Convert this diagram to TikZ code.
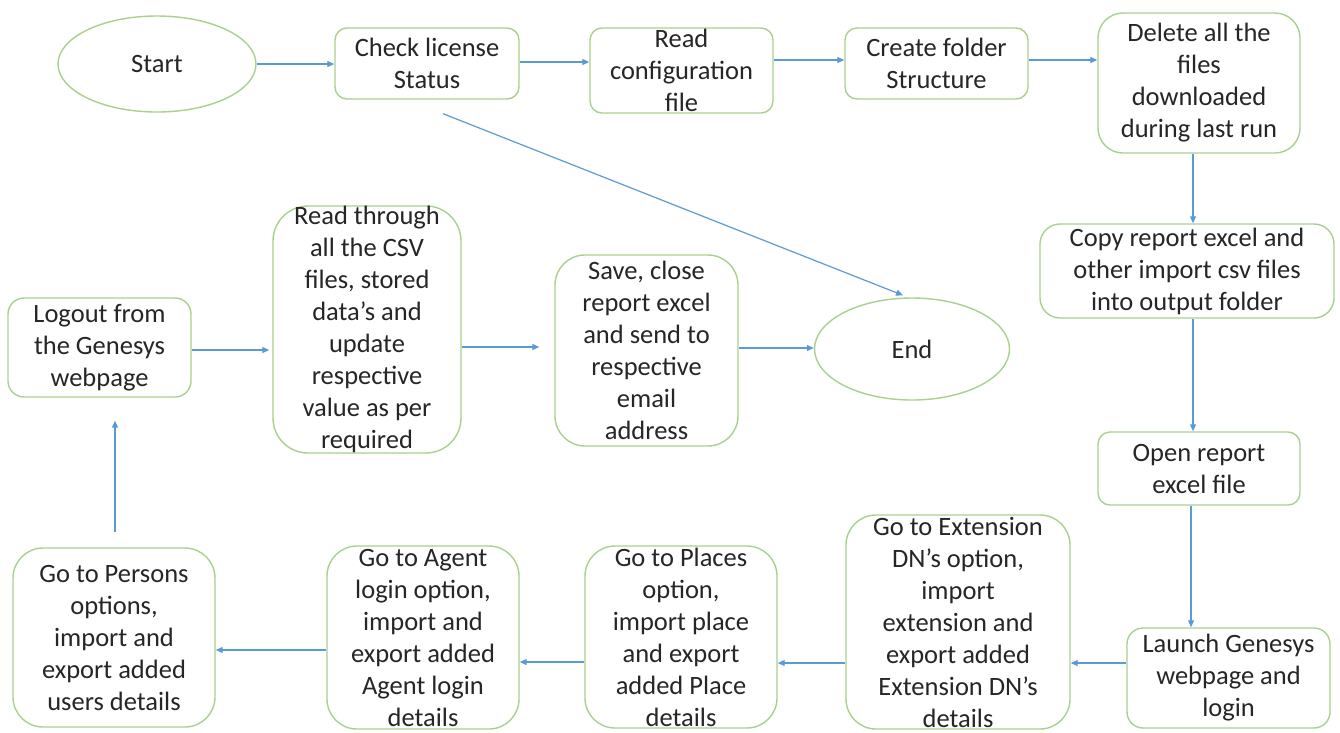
\documentclass[tikz,border=0pt]{standalone}
\usepackage{fontspec}
\setmainfont{Carlito}
\usetikzlibrary{arrows.meta,shapes.geometric}
\definecolor{boxgreen}{HTML}{A9D18E}
\definecolor{arrblue}{HTML}{5B9BD5}
\definecolor{txt}{HTML}{262626}
\begin{document}
\begin{tikzpicture}[x=1pt,y=-1pt,
  base/.style={draw=boxgreen,line width=1.4pt,fill=white,text=txt,inner sep=0pt,align=center,
    font=\fontsize{26.5}{32}\selectfont},
  proc/.style={base,rectangle,rounded corners=12pt},
  tallproc/.style={base,rectangle,rounded corners=30pt},
  term/.style={base,ellipse},
  arr/.style={draw=arrblue,line width=1.2pt,-{Triangle[length=7pt,width=6pt]}}]
\useasboundingbox (0,0) rectangle (1340,732);
\fill[white] (0,0) rectangle (1340,732);

\node[term,minimum width=198pt,minimum height=96pt] (start) at (157,64) {Start};
\node[proc,minimum width=184pt,minimum height=71pt] (check) at (427,63.5) {Check license\\Status};
\node[proc,minimum width=183pt,minimum height=85pt] (readcfg) at (681.5,70.5) {Read\\configuration\\file};
\node[proc,minimum width=183pt,minimum height=71pt] (create) at (936.5,63.5) {Create folder\\Structure};
\node[tallproc,rounded corners=25pt,minimum width=202pt,minimum height=140pt] (delete) at (1199,83) {Delete all the\\files\\downloaded\\during last run};
\node[proc,rounded corners=20pt,minimum width=294pt,minimum height=94pt] (copy) at (1187,271) {Copy report excel and\\other import csv files\\into output folder};
\node[proc,minimum width=202pt,minimum height=73pt] (open) at (1199,468.5) {Open report\\excel file};
\node[proc,rounded corners=16pt,minimum width=203pt,minimum height=100pt] (launch) at (1228.5,678) {Launch Genesys\\webpage and\\login};
\node[tallproc,minimum width=224pt,minimum height=214pt] (ext) at (958,622) {Go to Extension\\DN’s option,\\import\\extension and\\export added\\Extension DN’s\\details};
\node[tallproc,minimum width=192pt,minimum height=182pt] (places) at (681,637) {Go to Places\\option,\\import place\\and export\\added Place\\details};
\node[tallproc,minimum width=192pt,minimum height=183pt] (agent) at (423,637.5) {Go to Agent\\login option,\\import and\\export added\\Agent login\\details};
\node[tallproc,minimum width=202pt,minimum height=179pt] (persons) at (114,637.5) {Go to Persons\\options,\\import and\\export added\\users details};
\node[proc,rounded corners=16pt,minimum width=183pt,minimum height=99pt] (logout) at (99.5,347.5) {Logout from\\the Genesys\\webpage};
\node[tallproc,rounded corners=35pt,minimum width=188pt,minimum height=247pt] (readthrough) at (367,329.5) {Read through\\all the CSV\\files, stored\\data’s and\\update\\respective\\value as per\\required};
\node[tallproc,minimum width=183pt,minimum height=191pt] (save) at (646.5,350.5) {Save, close\\report excel\\and send to\\respective\\email\\address};
\node[term,minimum width=195pt,minimum height=102pt] (end) at (912,349) {End};

\draw[arr] (start.east) -- (start.east -| check.west);
\draw[arr] ([yshift=1.5pt]check.east) -- ([yshift=1.5pt]check.east -| readcfg.west);
\draw[arr] ([yshift=3.5pt]create.west -| readcfg.east) -- ([yshift=3.5pt]create.west);
\draw[arr] ([yshift=3.5pt]create.east) -- ([yshift=3.5pt]create.east -| delete.west);
\draw[arr] ([xshift=-6pt]delete.south) -- ([xshift=-6pt]delete.south |- copy.north);
\draw[arr] ([xshift=6pt]copy.south) -- ([xshift=6pt]copy.south |- open.north);
\draw[arr] ([xshift=-8pt]open.south) -- ([xshift=-8pt]open.south |- launch.north);
\draw[arr] ([yshift=15pt]launch.west) -- ([yshift=15pt]launch.west -| ext.east);
\draw[arr] ([yshift=-41pt]ext.west) -- ([yshift=-41pt]ext.west -| places.east);
\draw[arr] ([yshift=-25pt]places.west) -- ([yshift=-25pt]places.west -| agent.east);
\draw[arr] ([yshift=-12.5pt]agent.west) -- ([yshift=-12.5pt]agent.west -| persons.east);
\draw[arr,shorten <=15pt,shorten >=23pt] ([xshift=1pt]persons.north) -- ([xshift=1pt]persons.north |- logout.south);
\draw[arr,shorten >=3pt] ([yshift=-2.5pt]logout.east) -- ([yshift=-2.5pt]logout.east -| readthrough.west);
\draw[arr,shorten >=15pt] ([yshift=-17.5pt]readthrough.east) -- ([yshift=-17.5pt]readthrough.east -| save.west);
\draw[arr] ([yshift=2.5pt]save.east) -- ([yshift=2.5pt]save.east -| end.west);
\draw[arr] ([xshift=16pt,yshift=-14pt]check.south) -- ([xshift=-9pt,yshift=2pt]end.north);
\end{tikzpicture}
\end{document}
